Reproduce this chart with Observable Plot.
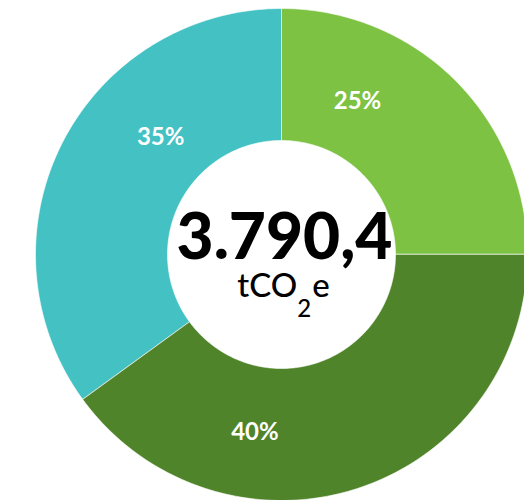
<!DOCTYPE html>
<html>
<head>
<meta charset="utf-8">
<script src="https://cdn.jsdelivr.net/npm/d3@7"></script>
<script src="https://cdn.jsdelivr.net/npm/@observablehq/plot@0.6"></script>
<style>
  html, body { margin: 0; padding: 0; background: #fff; }
  #chart { width: 524px; height: 500px; overflow: hidden; }
</style>
</head>
<body>
<div id="chart"></div>
<script>
// ---- data ----
const categories = ["25%", "40%", "35%"];
const values = [25, 40, 35];
const totalLabel = "3.790,4";
const unitLabel = "tCO2e";

// ---- styling / layout ----
const colors = ["#7dc243", "#4f842a", "#43c1c3"];
const W = 524, H = 500;
const cx = 281, cy = 254, R = 246;      // pixel center / outer radius
const innerRatio = 114 / 246;
const labelAngles = [26.4, 188.5, 314]; // degrees clockwise from top, as placed in reference
const labelRadius = [0.695, 0.732, 0.683];

const pie = d3.pie().sort(null).value(d => d.value);
const rows = categories.map((c, i) => ({key: c, value: values[i]}));
const arcs = pie(rows);

const polys = [];
for (const a of arcs) {
  const n = 120;
  for (let k = 0; k <= n; k++) {
    const t = a.startAngle + (a.endAngle - a.startAngle) * k / n;
    polys.push({key: a.data.key, x: Math.sin(t), y: Math.cos(t)});
  }
  for (let k = n; k >= 0; k--) {
    const t = a.startAngle + (a.endAngle - a.startAngle) * k / n;
    polys.push({key: a.data.key, x: innerRatio * Math.sin(t), y: innerRatio * Math.cos(t)});
  }
}

const labels = arcs.map((a, i) => {
  const t = labelAngles[i] * Math.PI / 180;
  return {key: a.data.key, x: labelRadius[i] * Math.sin(t), y: labelRadius[i] * Math.cos(t)};
});

const chart = Plot.plot({
  width: W,
  height: H,
  margin: 0,
  style: {fontFamily: "Lato, sans-serif", background: "transparent"},
  x: {domain: [-cx / R, (W - cx) / R], range: [0, W], axis: null},
  y: {domain: [-(H - cy) / R, cy / R], range: [H, 0], axis: null},
  color: {domain: categories, range: colors},
  marks: [
    Plot.line(polys, {x: "x", y: "y", z: "key", fill: "key", stroke: "white", strokeWidth: 0.6, curve: "linear-closed"}),
    Plot.text(labels, {x: "x", y: "y", text: "key", fill: "white", fontSize: 24, fontWeight: 700}),
    Plot.text([totalLabel], {x: () => 0, y: () => 0, text: d => d, dy: -16, dx: 3, fontSize: 64, fontWeight: 900, fill: "black"}),
    Plot.text([unitLabel], {x: () => 0, y: () => 0, text: d => d, dy: 32, dx: 2, fontSize: 33, fontWeight: 500, fill: "black"})
  ]
});

document.getElementById("chart").appendChild(chart);

// subscript the "2" in tCO2e
chart.querySelectorAll("text").forEach(t => {
  if (t.textContent === unitLabel) {
    t.textContent = "";
    const ns = "http://www.w3.org/2000/svg";
    const a = document.createElementNS(ns, "tspan"); a.textContent = "tCO";
    const b = document.createElementNS(ns, "tspan"); b.textContent = "2";
    b.setAttribute("font-size", "24"); b.setAttribute("dy", "20"); b.setAttribute("dx", "0");
    const c = document.createElementNS(ns, "tspan"); c.textContent = "e";
    c.setAttribute("dy", "-20"); c.setAttribute("dx", "1");
    t.append(a, b, c);
  }
});
</script>
</body>
</html>
